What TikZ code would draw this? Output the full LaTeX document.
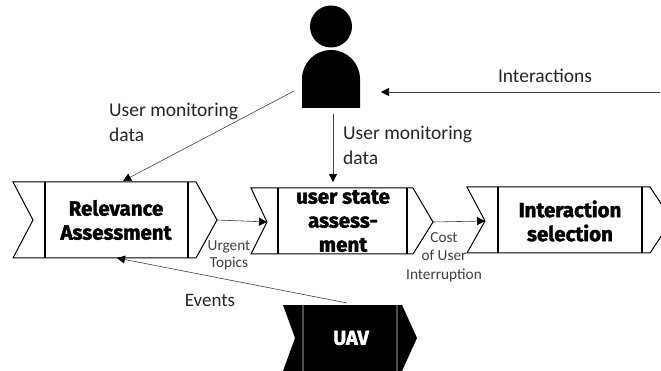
\documentclass[tikz,border=0pt]{standalone}
\usepackage{fontspec}
\usetikzlibrary{arrows.meta}
\setmainfont{Carlito}
\newfontfamily\heavyfont[FakeBold=1.8]{Fira Sans Bold}
\tikzset{
  flow/.style={draw=black,line width=1pt,line join=miter},
  divider/.style={line width=1.2pt},
  divthick/.style={line width=2pt},
  conn/.style={draw=black!75,line width=0.6pt,-{Triangle[length=8pt,width=8pt,fill=black,color=black]}},
  lbl/.style={font=\fontsize{19.5}{25}\selectfont,text=black!85,align=left,inner sep=0pt},
  small/.style={font=\fontsize{15.3}{17}\selectfont,text=black!75,align=center,inner sep=0pt},
  heavy/.style={font=\heavyfont\fontsize{20.5}{24}\selectfont,align=center,inner sep=0pt}
}
\begin{document}
\begin{tikzpicture}[x=1pt,y=-1pt]
\useasboundingbox (0,0) rectangle (661,371);
\clip (0,0) rectangle (661,371);
% person
\fill[black] (331,26.5) circle (21);
\fill[black] (302,108) -- (302,79) arc[start angle=180,end angle=360,radius=29] -- (360,108) -- cycle;
\coordinate (person-l) at (294,91);
\coordinate (person-b) at (333,114);
\coordinate (int-start) at (660,92);
\coordinate (int-end) at (381,92);
% Relevance
\draw[flow] (13,182) -- (196,182) -- (217,220) -- (196,258) -- (13,258) -- (33,220) -- cycle;
\draw[divider] (45,182) -- (45,258);
\draw[divthick] (188,182) -- (188,258);
\node[heavy] (rel) at (116,220) {Relevance\\Assessment};
\coordinate (rel-tip) at (217,220);
\coordinate (rel-top) at (123,181);
\coordinate (rel-bot) at (117,258);
% user state
\draw[flow] (251,188) -- (413,188) -- (433,222) -- (413,254) -- (251,254) -- (267,222) -- cycle;
\draw[divider] (278,188) -- (278,254);
\draw[divider] (407,188) -- (407,254);
\node[heavy] (usr) at (343,221) {user state\\assess-\\ment};
\coordinate (usr-notch) at (267,222);
\coordinate (usr-top) at (333,182);
\coordinate (usr-tip) at (433,222);
% interaction
\draw[flow] (467,187) -- (650,187) -- (672,220) -- (650,253) -- (467,253) -- (485,221) -- cycle;
\draw[divthick] (498,187) -- (498,253);
\draw[divthick] (642,187) -- (642,253);
\node[heavy] (inter) at (570,221) {Interaction\\selection};
\coordinate (inter-notch) at (485,221);
% UAV
\fill[black] (283,305) -- (402,305) -- (417,338) -- (402,371) -- (283,371) -- (295,338) -- cycle;
\draw[black!70,line width=1.2pt] (303,305) -- (303,371);
\draw[black!70,line width=1.2pt] (397,305) -- (397,371);
\node[heavy,text=white,font=\heavyfont\fontsize{20}{24}\selectfont] (uav) at (351,338) {UAV};
\coordinate (uav-top) at (347,303);
% connectors
\draw[conn] (person-l) -- (rel-top);
\draw[conn] (person-b) -- (usr-top);
\draw[conn] (int-start) -- (int-end);
\draw[conn] (rel-tip) -- (usr-notch);
\draw[conn] (usr-tip) -- (inter-notch);
\draw[conn] (uav-top) -- (rel-bot);
% labels
\node[lbl,anchor=north west] (l1) at (109,103) {User monitoring\\data};
\node[lbl,anchor=north west] (l2) at (343,126) {User monitoring\\data};
\node[lbl,anchor=center] (l3) at (545,76) {Interactions};
\node[lbl,anchor=center,font=\fontsize{19}{24}\selectfont] (l4) at (210,300) {Events};
\node[small] (l5) at (229,255) {Urgent\\Topics};
\node[small,font=\fontsize{15.3}{18.5}\selectfont] (l6) at (444,257) {Cost\\of User\\Interruption};
\end{tikzpicture}
\end{document}
